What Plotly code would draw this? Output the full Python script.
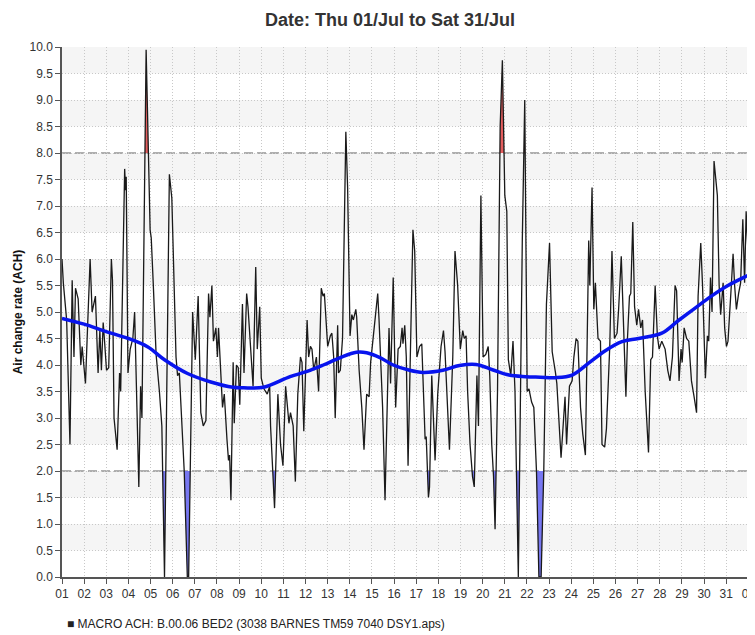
import plotly.graph_objects as go

# ---------------- data ----------------
title_text = "Date: Thu 01/Jul to Sat 31/Jul"
y_title = "Air change rate (ACH)"
series_name = "MACRO ACH: B.00.06 BED2 (3038 BARNES TM59 7040 DSY1.aps)"

# x tick positions (days since 01/Jul 00:00) and labels
day_ticks = list(range(0, 32))
day_labels = [f"{d:02d}" for d in range(1, 32)] + ["01"]

upper_limit = 8.0
lower_limit = 2.0

# time (days since 01/Jul 00:00)
t_days = [
    0.00, 0.06, 0.21, 0.36, 0.46, 0.54, 0.61, 0.73, 0.85, 0.91, 1.06, 1.27, 1.36, 1.51, 1.63,
    1.71, 1.78, 1.86, 1.93, 2.01, 2.11, 2.23, 2.28, 2.35, 2.49, 2.60, 2.65, 2.83, 2.87, 2.90,
    2.98, 3.08, 3.20, 3.28, 3.47, 3.55, 3.61, 3.80, 3.98, 4.03, 4.12, 4.25, 4.40, 4.51, 4.63,
    4.85, 4.96, 5.15, 5.22, 5.30, 5.52, 5.66, 5.72, 5.90, 6.02, 6.15, 6.27, 6.38, 6.50, 6.62,
    6.68, 6.77, 6.84, 6.95, 7.02, 7.07, 7.25, 7.33, 7.45, 7.52, 7.57, 7.63, 7.73, 7.78, 7.88,
    7.96, 8.03, 8.15, 8.22, 8.34, 8.40, 8.52, 8.63, 8.75, 8.82, 8.93, 9.00, 9.12, 9.27, 9.38,
    9.42, 9.60, 9.75, 9.87, 9.98, 10.10, 10.25, 10.32, 10.44, 10.54, 10.65, 10.77, 10.84, 10.92, 11.07,
    11.14, 11.22, 11.29, 11.37, 11.49, 11.59, 11.71, 11.79, 11.85, 11.92, 12.00, 12.12, 12.19, 12.27, 12.34,
    12.45, 12.49, 12.57, 12.67, 12.82, 12.90, 13.01, 13.09, 13.16, 13.27, 13.31, 13.42, 13.54, 13.64, 13.76,
    13.87, 13.94, 14.06, 14.17, 14.26, 14.32, 14.39, 14.48, 14.59, 14.66, 14.77, 14.84, 14.96, 15.07, 15.18,
    15.28, 15.36, 15.40, 15.48, 15.55, 15.63, 15.85, 15.93, 16.03, 16.15, 16.25, 16.40, 16.45, 16.55, 16.60,
    16.70, 16.85, 16.97, 17.12, 17.23, 17.30, 17.38, 17.50, 17.65, 17.75, 17.87, 17.99, 18.10, 18.17, 18.25,
    18.32, 18.43, 18.54, 18.62, 18.74, 18.81, 18.92, 19.02, 19.14, 19.25, 19.32, 19.41, 19.49, 19.56, 19.67,
    19.79, 19.89, 20.00, 20.09, 20.16, 20.27, 20.37, 20.46, 20.61, 20.72, 20.76, 20.79, 20.90, 21.01, 21.09,
    21.21, 21.31, 21.43, 21.54, 21.64, 21.76, 21.88, 22.02, 22.14, 22.29, 22.35, 22.54, 22.72, 22.79, 22.92,
    23.04, 23.12, 23.22, 23.30, 23.42, 23.52, 23.64, 23.79, 23.84, 23.94, 24.02, 24.09, 24.21, 24.32, 24.39,
    24.51, 24.59, 24.74, 24.84, 24.95, 25.07, 25.14, 25.26, 25.34, 25.40, 25.47, 25.54, 25.63, 25.69, 25.78,
    25.86, 25.96, 26.04, 26.14, 26.22, 26.34, 26.49, 26.59, 26.67, 26.79, 26.89, 26.97, 27.09, 27.24, 27.36,
    27.46, 27.57, 27.69, 27.76, 27.87, 27.96, 28.01, 28.10, 28.21, 28.31, 28.43, 28.55, 28.66, 28.73, 28.85,
    28.93, 29.06, 29.15, 29.21, 29.29, 29.36, 29.45, 29.53, 29.60, 29.68, 29.75, 29.86, 29.93, 30.01, 30.08,
    30.23, 30.31, 30.38, 30.46, 30.56, 30.65, 30.75, 30.83, 30.90, 30.98, 31.13,
]

ach = [
    6.0, 5.55, 4.85, 2.5, 5.6, 4.15, 5.45, 5.25, 4.0, 4.35, 3.65, 6.0, 5.0, 5.3, 3.85,
    4.65, 3.9, 4.8, 4.4, 3.9, 3.95, 6.0, 5.6, 3.0, 2.4, 3.85, 3.5, 7.7, 7.3, 7.55,
    3.85, 4.3, 4.5, 5.0, 1.7, 3.6, 3.0, 9.95, 6.55, 6.4, 5.55, 4.2, 3.5, 2.85, 0.0,
    7.6, 7.15, 4.15, 3.8, 3.85, 2.0, 0.0, 0.0, 5.0, 4.1, 5.3, 3.1, 2.85, 2.95, 5.35,
    4.9, 5.5, 4.45, 4.7, 4.15, 4.7, 3.2, 3.45, 2.6, 2.2, 2.3, 1.45, 4.05, 2.9, 4.0,
    3.95, 3.25, 5.15, 3.85, 5.35, 5.1, 4.3, 3.6, 5.85, 4.3, 5.1, 3.75, 3.55, 3.45, 3.6,
    2.85, 1.3, 3.45, 2.5, 2.1, 3.6, 2.9, 3.1, 2.85, 1.8, 3.45, 4.15, 4.05, 2.75, 4.85,
    4.15, 4.35, 4.3, 3.9, 4.15, 3.5, 5.45, 5.3, 5.35, 4.95, 4.35, 4.55, 4.6, 4.15, 3.0,
    4.75, 3.85, 3.9, 4.5, 8.4, 7.35, 4.55, 4.95, 4.85, 5.05, 4.9, 3.9, 3.2, 2.4, 3.45,
    3.4, 4.05, 4.5, 4.9, 5.35, 4.85, 4.15, 3.2, 1.45, 2.85, 4.7, 3.65, 5.65, 3.2, 4.3,
    4.35, 4.7, 4.4, 4.75, 4.15, 2.1, 6.55, 6.15, 4.15, 4.35, 4.4, 2.6, 2.65, 1.5, 1.7,
    3.8, 2.2, 3.45, 4.35, 4.65, 4.25, 3.4, 2.4, 4.15, 6.15, 5.5, 4.3, 4.65, 4.5, 4.55,
    3.5, 2.5, 1.9, 1.7, 3.8, 2.85, 7.2, 4.15, 4.2, 4.35, 3.8, 2.5, 1.9, 0.9, 3.5,
    8.5, 9.75, 7.2, 6.9, 4.1, 3.8, 4.45, 3.5, 0.0, 4.15, 5.7, 6.35, 9.0, 3.5, 3.55,
    3.3, 3.2, 2.0, 0.0, 0.0, 2.0, 5.15, 6.3, 4.25, 3.85, 3.65, 2.25, 3.4, 2.5, 3.6,
    3.7, 4.15, 4.5, 4.45, 3.2, 2.7, 2.3, 6.35, 5.5, 7.35, 5.05, 5.55, 4.5, 4.45, 2.5,
    2.45, 2.8, 4.35, 6.15, 4.5, 4.6, 5.05, 6.05, 4.85, 4.05, 3.4, 4.5, 5.3, 5.35, 6.7,
    5.1, 4.75, 5.05, 4.7, 4.85, 3.5, 2.35, 4.1, 4.15, 5.5, 4.55, 4.3, 4.45, 4.3, 3.9,
    3.7, 4.15, 5.5, 5.4, 3.7, 4.3, 4.05, 4.7, 4.5, 4.45, 3.7, 3.4, 3.1, 5.3, 6.3,
    5.5, 3.75, 4.55, 4.45, 5.65, 5.0, 7.85, 7.5, 7.2, 5.5, 4.95, 5.55, 4.7, 4.35, 4.45,
    5.5, 6.1, 5.5, 5.05, 5.35, 5.55, 6.75, 5.55, 6.9, 6.15, 6.1,
]

# smoothed trend line
trend_days = [0.0, 1.0, 1.93, 3.0, 3.88, 4.63, 5.67, 6.72, 7.72, 8.2, 9.1, 10.3, 11.07, 11.8,
              12.57, 13.3, 13.76, 14.36, 14.96, 15.7, 16.3, 17.2, 17.95, 18.7, 19.44, 20.19,
              20.94, 21.6, 22.29, 23.04, 23.8, 24.54, 25.29, 26.04, 27.09, 27.84, 28.58,
              29.33, 30.08, 30.98, 31.13]
trend_ach = [4.88, 4.77, 4.64, 4.5, 4.34, 4.1, 3.84, 3.68, 3.58, 3.57, 3.58, 3.78, 3.88, 4.0,
             4.14, 4.24, 4.23, 4.14, 4.0, 3.9, 3.86, 3.9, 3.99, 4.01, 3.91, 3.81,
             3.78, 3.77, 3.76, 3.81, 4.04, 4.27, 4.44, 4.5, 4.6, 4.84, 5.07,
             5.3, 5.5, 5.69, 5.72]

x_max = 31.3

# page body has an 8px default margin; figure is sized so that it fills the window
PAGE_OFF = 8
W, H = 755 - PAGE_OFF, 635 - PAGE_OFF
PL, PT, PB = 62 - PAGE_OFF, 47 - PAGE_OFF, 635 - 577
PLOT_W, PLOT_H = W - PL, H - PT - PB


def clip_to(xs, ys, thr, above):
    """Insert threshold crossings and clip values to one side of thr."""
    ox, oy = [], []
    for i in range(len(xs)):
        if i > 0:
            y0, y1 = ys[i - 1], ys[i]
            if (y0 - thr) * (y1 - thr) < 0:
                f = (thr - y0) / (y1 - y0)
                ox.append(xs[i - 1] + f * (xs[i] - xs[i - 1]))
                oy.append(thr)
        ox.append(xs[i])
        oy.append(max(ys[i], thr) if above else min(ys[i], thr))
    return ox, oy


fig = go.Figure()

# red fill above upper limit
ux, uy = clip_to(t_days, ach, upper_limit, True)
fig.add_trace(go.Scatter(x=ux, y=[upper_limit] * len(ux), mode="lines",
                         line=dict(width=0, color="rgba(0,0,0,0)"), showlegend=False, hoverinfo="skip"))
fig.add_trace(go.Scatter(x=ux, y=uy, mode="lines", fill="tonexty",
                         fillcolor="rgba(226,84,84,0.95)", line=dict(width=0, color="rgba(0,0,0,0)"),
                         showlegend=False, hoverinfo="skip"))

# blue fill below lower limit
lx, ly = clip_to(t_days, ach, lower_limit, False)
fig.add_trace(go.Scatter(x=lx, y=[lower_limit] * len(lx), mode="lines",
                         line=dict(width=0, color="rgba(0,0,0,0)"), showlegend=False, hoverinfo="skip"))
fig.add_trace(go.Scatter(x=lx, y=ly, mode="lines", fill="tonexty",
                         fillcolor="rgba(112,112,240,0.95)", line=dict(width=0, color="rgba(0,0,0,0)"),
                         showlegend=False, hoverinfo="skip"))

# main series
fig.add_trace(go.Scatter(x=t_days, y=ach, mode="lines", name=series_name,
                         line=dict(color="#1a1a1a", width=1.3), showlegend=False))

# trend
fig.add_trace(go.Scatter(x=trend_days, y=trend_ach, mode="lines", line_shape="spline",
                         line=dict(color="#0814ee", width=3.5), showlegend=False, hoverinfo="skip"))

# alternating grey bands + limit lines
shapes = []
for k in range(10):
    shapes.append(dict(type="rect", xref="paper", yref="y", x0=0, x1=1, y0=k + 0.5, y1=k + 1,
                       fillcolor="#f5f5f5", line=dict(width=0), layer="below"))
for thr in (upper_limit, lower_limit):
    shapes.append(dict(type="line", xref="paper", yref="y", x0=0, x1=1, y0=thr, y1=thr,
                       line=dict(color="#606060", width=1.2, dash="9px,4px"), layer="between"))

# legend-like caption below the plot
annotations = [dict(text="\u25A0 " + series_name, xref="paper", yref="paper",
                    x=(65 - 62) / PLOT_W, y=-(624 - 577) / PLOT_H, xanchor="left", yanchor="middle",
                    showarrow=False, font=dict(size=12, color="#222"))]

fig.update_layout(
    width=W, height=H,
    margin=dict(l=PL, r=0, t=PT, b=PB, autoexpand=False),
    paper_bgcolor="white", plot_bgcolor="white",
    font=dict(family="Liberation Sans, Arial, sans-serif", size=12, color="#333"),
    title=dict(text=f"<b>{title_text}</b>", x=(390 - PAGE_OFF) / W, xref="container", xanchor="center",
               y=1 - (20 - PAGE_OFF) / H, yref="container", yanchor="middle",
               font=dict(size=18, color="#333")),
    shapes=shapes,
    annotations=annotations,
    showlegend=False,
)

fig.update_xaxes(
    range=[0, x_max], tickmode="array", tickvals=day_ticks, ticktext=day_labels,
    showgrid=True, gridcolor="#c8c8c8", griddash="1px,2px", gridwidth=1,
    showline=True, linecolor="#555", linewidth=1.5, automargin=False,
    ticks="outside", ticklen=5, tickcolor="#555", zeroline=False,
    tickfont=dict(size=12, color="#333"), ticklabeloverflow="allow",
)
fig.update_yaxes(
    range=[0, 10], tick0=0, dtick=0.5, tickformat=".1f",
    showgrid=True, gridcolor="#c8c8c8", griddash="1px,2px", gridwidth=1,
    showline=True, linecolor="#555", linewidth=1.5, automargin=False,
    ticks="outside", ticklen=5, tickcolor="#555", zeroline=False,
    tickfont=dict(size=12, color="#333"),
    title=dict(text=f"<b>{y_title}</b>", font=dict(size=12, color="#111"), standoff=4),
)

fig.write_html("out.html")
